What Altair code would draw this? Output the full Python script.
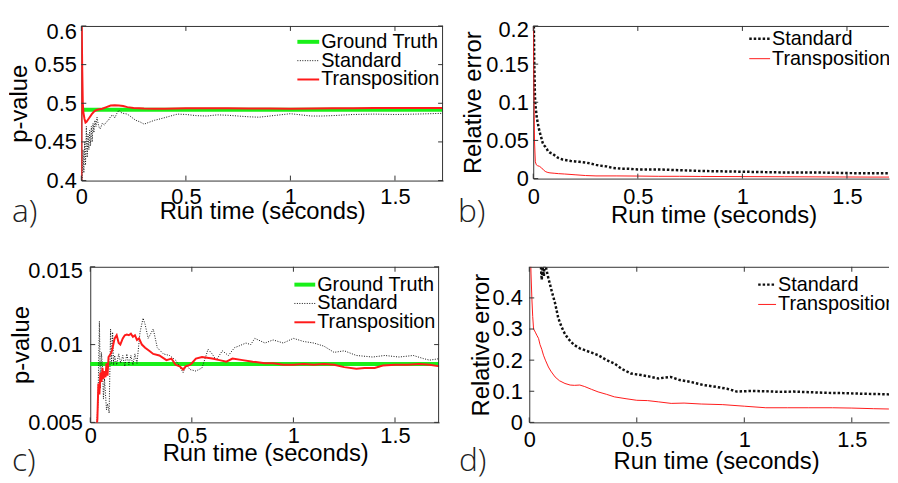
import altair as alt
import pandas as pd

FONT = "Liberation Sans"
SERIES = ["Ground Truth", "Standard", "Transposition"]
X_TICKS = [0, 0.5, 1, 1.5]
XTITLE = "Run time (seconds)"

A_YTICKS = [0.4, 0.45, 0.5, 0.55, 0.6]
A_GT = 0.4915
A_TRN_T = [0, 0.002, 0.004, 0.007, 0.01, 0.015, 0.02, 0.025, 0.03, 0.04, 0.05, 0.06, 0.07, 0.08, 0.1,
           0.12, 0.14, 0.16, 0.18, 0.2, 0.22, 0.25, 0.3, 0.35, 0.4, 0.5, 0.6, 0.7, 0.8, 0.9, 1.0,
           1.1, 1.2, 1.3, 1.4, 1.5, 1.6, 1.73]
A_TRN_P = [0.40, 0.60, 0.55, 0.50, 0.488, 0.48, 0.475, 0.476, 0.478, 0.482, 0.486, 0.489, 0.491, 0.492,
           0.493, 0.495, 0.497, 0.4975, 0.4972, 0.4965, 0.495, 0.494, 0.4932, 0.4928, 0.493, 0.4935,
           0.4937, 0.4935, 0.4933, 0.4932, 0.493, 0.4932, 0.4935, 0.4937, 0.4938, 0.4938, 0.494, 0.494]
A_STD_T = [0.004, 0.008, 0.012, 0.016, 0.02, 0.024, 0.028, 0.032, 0.036, 0.04, 0.044, 0.048, 0.052,
           0.056, 0.06, 0.065, 0.07, 0.075, 0.08, 0.085, 0.09, 0.095, 0.1, 0.11, 0.12, 0.13, 0.14,
           0.15, 0.16, 0.17, 0.18, 0.19, 0.2, 0.22, 0.24, 0.26, 0.28, 0.3, 0.32, 0.35, 0.38, 0.42,
           0.46, 0.5, 0.55, 0.6, 0.65, 0.7, 0.75, 0.8, 0.85, 0.9, 0.95, 1.0, 1.05, 1.1, 1.15, 1.2,
           1.3, 1.4, 1.5, 1.6, 1.73]
A_STD_P = [0.40, 0.44, 0.41, 0.45, 0.42, 0.47, 0.43, 0.46, 0.44, 0.465, 0.445, 0.47, 0.45, 0.474,
           0.462, 0.478, 0.47, 0.482, 0.474, 0.469, 0.467, 0.47, 0.474, 0.472, 0.476, 0.478, 0.483,
           0.485, 0.481, 0.487, 0.491, 0.488, 0.487, 0.486, 0.482, 0.478, 0.476, 0.473, 0.475, 0.478,
           0.48, 0.483, 0.486, 0.4855, 0.484, 0.4835, 0.485, 0.4845, 0.4835, 0.4825, 0.482, 0.4835,
           0.485, 0.4865, 0.485, 0.4835, 0.4835, 0.484, 0.4855, 0.486, 0.4855, 0.486, 0.487]

B_YTICKS = [0, 0.05, 0.1, 0.15, 0.2]
B_TRN_T = [0, 0.003, 0.006, 0.01, 0.015, 0.02, 0.03, 0.04, 0.05, 0.06, 0.07, 0.08, 0.1, 0.12, 0.15,
           0.2, 0.25, 0.3, 0.4, 0.5, 0.6, 0.7, 0.8, 1.0, 1.2, 1.4, 1.6, 1.73]
B_TRN_E = [0.2, 0.12, 0.05, 0.022, 0.018, 0.017, 0.016, 0.014, 0.011, 0.009, 0.008, 0.0075, 0.007,
           0.0065, 0.006, 0.005, 0.004, 0.0035, 0.0035, 0.0033, 0.003, 0.003, 0.0028, 0.0026, 0.0024,
           0.0022, 0.002, 0.002]
B_STD_T = [0.003, 0.005, 0.008, 0.01, 0.013, 0.017, 0.021, 0.025, 0.03, 0.035, 0.04, 0.045, 0.05,
           0.057, 0.065, 0.07, 0.08, 0.09, 0.1, 0.12, 0.14, 0.16, 0.18, 0.2, 0.22, 0.25, 0.27, 0.3,
           0.32, 0.35, 0.38, 0.42, 0.45, 0.5, 0.6, 0.7, 0.8, 0.9, 1.0, 1.1, 1.2, 1.3, 1.4, 1.5, 1.6, 1.73]
B_STD_E = [0.2, 0.15, 0.11, 0.097, 0.09, 0.08, 0.074, 0.068, 0.062, 0.057, 0.052, 0.047, 0.044,
           0.042, 0.039, 0.036, 0.034, 0.033, 0.031, 0.027, 0.025, 0.024, 0.023, 0.0225, 0.022, 0.021,
           0.02, 0.018, 0.017, 0.016, 0.014, 0.013, 0.013, 0.012, 0.012, 0.011, 0.01, 0.0095, 0.009,
           0.0085, 0.008, 0.008, 0.0078, 0.0072, 0.007, 0.007]

C_YTICKS = [0.005, 0.01, 0.015]
C_GT = 0.00875
C_TRN_T = [0.03, 0.035, 0.04, 0.045, 0.05, 0.055, 0.06, 0.065, 0.07, 0.075, 0.08, 0.085, 0.09, 0.1,
           0.107, 0.115, 0.12, 0.13, 0.14, 0.148, 0.16, 0.17, 0.18, 0.19, 0.2, 0.21, 0.22, 0.23, 0.24,
           0.254, 0.27, 0.29, 0.31, 0.34, 0.375, 0.4, 0.42, 0.44, 0.457, 0.47, 0.49, 0.5, 0.52, 0.55,
           0.6, 0.636, 0.67, 0.7, 0.75, 0.8, 0.86, 0.9, 0.95, 1.0, 1.05, 1.1, 1.15, 1.2, 1.25, 1.31,
           1.35, 1.4, 1.44, 1.5, 1.56, 1.62, 1.67, 1.72]
C_TRN_P = [0.0045, 0.0052, 0.0075, 0.0068, 0.0082, 0.0076, 0.0085, 0.0078, 0.0083, 0.0079, 0.0088,
           0.008, 0.0092, 0.0094, 0.0096, 0.0101, 0.0104, 0.0106, 0.0101, 0.0100, 0.0104, 0.0106,
           0.01065, 0.0106, 0.0107, 0.0105, 0.0106, 0.0103, 0.0104, 0.0100, 0.0098, 0.0096, 0.0094,
           0.0093, 0.0090, 0.0091, 0.0087, 0.0086, 0.0084, 0.0086, 0.0087, 0.0088, 0.0091, 0.0092,
           0.0091, 0.0090, 0.0089, 0.0091, 0.0090, 0.0089, 0.0088, 0.0088, 0.0087, 0.0087, 0.00875,
           0.0087, 0.00875, 0.0087, 0.00855, 0.00845, 0.0085, 0.0085, 0.00865, 0.0087, 0.0087,
           0.00875, 0.0087, 0.0086]
C_STD_T = [0.03, 0.038, 0.045, 0.05, 0.055, 0.06, 0.065, 0.07, 0.075, 0.08, 0.085, 0.093, 0.1, 0.105,
           0.11, 0.115, 0.12, 0.13, 0.14, 0.15, 0.16, 0.17, 0.18, 0.19, 0.2, 0.21, 0.22, 0.23, 0.245,
           0.26, 0.27, 0.285, 0.31, 0.33, 0.36, 0.39, 0.42, 0.44, 0.457, 0.475, 0.49, 0.52, 0.55,
           0.58, 0.6, 0.62, 0.65, 0.68, 0.71, 0.73, 0.766, 0.79, 0.81, 0.86, 0.9, 0.95, 1.0, 1.05,
           1.1, 1.15, 1.2, 1.25, 1.31, 1.39, 1.45, 1.52, 1.59, 1.64, 1.67, 1.72]
C_STD_P = [0.0045, 0.0062, 0.0115, 0.0072, 0.0095, 0.0085, 0.0065, 0.0078, 0.0068, 0.0058, 0.0062,
           0.0056, 0.011, 0.0088, 0.0108, 0.0087, 0.0093, 0.0087, 0.0094, 0.0088, 0.0093, 0.0086,
           0.0094, 0.0087, 0.0093, 0.0087, 0.0094, 0.0088, 0.0108, 0.0117, 0.0113, 0.0104, 0.0110,
           0.0098, 0.0094, 0.0093, 0.0090, 0.0086, 0.0082, 0.0087, 0.0084, 0.0083, 0.0085, 0.0097,
           0.0094, 0.0090, 0.0096, 0.0093, 0.0098, 0.0099, 0.0101, 0.0100, 0.0104, 0.0101, 0.0103,
           0.0101, 0.0104, 0.0102, 0.0101, 0.0099, 0.0095, 0.0096, 0.0093, 0.0092, 0.0093, 0.0092,
           0.0093, 0.0091, 0.0090, 0.0091]

D_YTICKS = [0, 0.1, 0.2, 0.3, 0.4]
D_TRN_T = [0.004, 0.008, 0.012, 0.016, 0.02, 0.028, 0.035, 0.043, 0.05, 0.058, 0.066, 0.075, 0.089,
           0.1, 0.12, 0.14, 0.166, 0.19, 0.21, 0.235, 0.258, 0.29, 0.32, 0.36, 0.396, 0.45, 0.5, 0.55,
           0.6, 0.66, 0.72, 0.8, 0.9, 1.0, 1.1, 1.2, 1.3, 1.41, 1.5, 1.6, 1.67, 1.73]
D_TRN_E = [0.6, 0.48, 0.40, 0.34, 0.30, 0.29, 0.28, 0.27, 0.25, 0.235, 0.216, 0.2, 0.178, 0.165,
           0.146, 0.134, 0.125, 0.12, 0.119, 0.12, 0.115, 0.106, 0.098, 0.09, 0.082, 0.076, 0.071,
           0.07, 0.066, 0.061, 0.062, 0.059, 0.057, 0.052, 0.047, 0.047, 0.047, 0.047, 0.046, 0.044,
           0.043, 0.043]
D_STD_T = [0.05, 0.055, 0.058, 0.062, 0.068, 0.072, 0.08, 0.09, 0.097, 0.105, 0.12, 0.135, 0.15,
           0.165, 0.18, 0.195, 0.21, 0.235, 0.258, 0.29, 0.32, 0.36, 0.396, 0.43, 0.473, 0.52, 0.56,
           0.6, 0.657, 0.7, 0.75, 0.81, 0.87, 0.92, 0.965, 1.03, 1.1, 1.17, 1.23, 1.3, 1.38, 1.46,
           1.55, 1.62, 1.67, 1.73]
D_STD_E = [0.6, 0.49, 0.458, 0.5, 0.47, 0.52, 0.49, 0.46, 0.442, 0.42, 0.383, 0.335, 0.307, 0.285,
           0.27, 0.258, 0.248, 0.238, 0.232, 0.224, 0.216, 0.2, 0.189, 0.172, 0.157, 0.152, 0.147,
           0.141, 0.146, 0.136, 0.13, 0.12, 0.114, 0.108, 0.099, 0.101, 0.1, 0.098, 0.099, 0.097,
           0.095, 0.094, 0.092, 0.091, 0.09, 0.089]

GREEN = "#19f019"
RED = "#ff1a1a"
BLACK = "#111111"
AXC = "#333333"


def one():
    return alt.Data(values=[{"k": 0}])


def panel(w, h, xmax, ydom, yticks, ytitle, lines, gt, legend, letter, cfg, right_box=True,
          anchor=None, x0=0):
    """x0: left inset of the plotting area inside the view (pixels)."""
    if x0:
        xs = alt.Scale(domain=[0, xmax], nice=False, zero=False, range=[x0, w])
    else:
        xs = alt.Scale(domain=[0, xmax], nice=False, zero=False)
    ys = alt.Scale(domain=ydom, nice=False, zero=False)
    top = max(yticks)
    if abs(top - ydom[1]) < 1e-12:
        loff = {"condition": {"test": f"datum.value >= {top - 1e-9}", "value": cfg["toff"]},
                "value": 0}
    else:
        loff = 0
    xaxis = alt.Axis(values=X_TICKS, format=".3~g", labelFlush=False, labelOverlap=False,
                     ticks=False, grid=False, domainColor=AXC, domainWidth=1, labelFont=FONT,
                     labelFontSize=22, labelColor="black", labelPadding=cfg["xlp"], title=XTITLE,
                     titleFont=FONT, titleFontSize=24, titleFontWeight="normal", titleColor="black",
                     titleX=cfg["xtx"], titleY=cfg["xty"], titleAlign="center",
                     titleBaseline="alphabetic")
    yaxis_kw = dict(values=yticks, format=".3~g", labelFlush=False, labelOverlap=False,
                    ticks=False, grid=False, domainColor=AXC, domainWidth=1, labelFont=FONT,
                    labelFontSize=22, labelColor="black", labelPadding=cfg["ylp"],
                    labelBaseline="middle", labelOffset=loff, title=ytitle,
                    titleFont=FONT, titleFontSize=24, titleFontWeight="normal", titleColor="black",
                    titleX=cfg["ytx"], titleY=h / 2, titleAngle=270, titleAlign="center",
                    titleBaseline="alphabetic")
    if x0:
        yaxis_kw["offset"] = -x0
    yaxis = alt.Axis(**yaxis_kw)

    def X():
        return alt.X("t:Q", scale=xs, axis=xaxis)

    def Y():
        return alt.Y("v:Q", scale=ys, axis=yaxis)

    layers = []
    if gt is not None:
        layers.append(alt.Chart(pd.DataFrame({"v": [gt]})).mark_rule(
            color=GREEN, strokeWidth=4, clip=True).encode(
            y=Y(), x=alt.value(x0), x2=alt.value(w)))
    for (tt, vv, style) in lines:
        df = pd.DataFrame({"t": tt, "v": vv})
        layers.append(alt.Chart(df).mark_line(clip=True, **style).encode(x=X(), y=Y()))
    xt = pd.DataFrame({"t": X_TICKS})
    yt = pd.DataFrame({"v": yticks})
    layers.append(alt.Chart(xt).mark_rule(color=AXC, strokeWidth=1).encode(
        x=X(), y=alt.value(h - 5), y2=alt.value(h)))
    layers.append(alt.Chart(xt).mark_rule(color=AXC, strokeWidth=1).encode(
        x=X(), y=alt.value(0), y2=alt.value(5)))
    layers.append(alt.Chart(yt).mark_rule(color=AXC, strokeWidth=1).encode(
        y=Y(), x=alt.value(x0), x2=alt.value(x0 + 5)))
    layers.append(alt.Chart(one()).mark_rule(color=AXC, strokeWidth=1).encode(
        x=alt.value(x0), x2=alt.value(w), y=alt.value(0.5)))
    if right_box:
        layers.append(alt.Chart(yt).mark_rule(color=AXC, strokeWidth=1).encode(
            y=Y(), x=alt.value(w - 5), x2=alt.value(w)))
        layers.append(alt.Chart(one()).mark_rule(color=AXC, strokeWidth=1).encode(
            x=alt.value(w - 0.5), y=alt.value(0), y2=alt.value(h)))
    for (name, style, x1, x2, xtx, yy) in legend:
        layers.append(alt.Chart(one()).mark_rule(**style).encode(
            x=alt.value(x0 + x1), x2=alt.value(x0 + x2), y=alt.value(yy)))
        layers.append(alt.Chart(one()).mark_text(
            align="left", baseline="middle", font=FONT, fontSize=20, color="black", clip=True
        ).encode(x=alt.value(x0 + xtx), y=alt.value(yy), text=alt.value(name)))
    layers.append(alt.Chart(one()).mark_text(
        text=letter, align="left", baseline="alphabetic", font="Open Sans", fontWeight=300,
        fontSize=32, color="#222222").encode(x=alt.value(cfg["lx"]), y=alt.value(cfg["ly"])))
    # layout anchor: a white (visible, so it counts in the bounds) hairline in the page margin
    if anchor is not None:
        ax, ay1, ay2 = anchor
        layers.append(alt.Chart(one()).mark_rule(color="white", strokeWidth=1).encode(
            x=alt.value(ax), y=alt.value(ay1), y2=alt.value(ay2)))
    return alt.layer(*layers).properties(width=w, height=h)


STD_THIN = dict(color=BLACK, strokeWidth=1, strokeDash=[1, 1.5])
STD_THICK = dict(color=BLACK, strokeWidth=2.5, strokeDash=[2.5, 2])
TRN_THICK = dict(color=RED, strokeWidth=2)
TRN_THIN = dict(color=RED, strokeWidth=1)
GT_STYLE = dict(color=GREEN, strokeWidth=4)

# view origins on the page: row 1 at x=82,y=24 ; row 2 at x=82 (axis at 91), y=267
pa = panel(365, 156, 1.73, [0.4, 0.6], A_YTICKS, "p-value",
           [(A_STD_T, A_STD_P, STD_THIN), (A_TRN_T, A_TRN_P, TRN_THICK)], A_GT,
           [(SERIES[0], GT_STYLE, 218, 240, 242, 16), (SERIES[1], STD_THIN, 218, 240, 242, 35),
            (SERIES[2], TRN_THICK, 218, 240, 242, 54)],
           "a)", dict(xlp=6, xtx=182.5, xty=38, ylp=5, ytx=-55, lx=-70, ly=198, toff=6),
           anchor=(-73.5, 8.5 - 24, 232.5 - 24))

pb = panel(359, 154, 1.701, [0, 0.2], B_YTICKS, "Relative error",
           [(B_STD_T, B_STD_E, STD_THICK), (B_TRN_T, B_TRN_E, TRN_THIN)], None,
           [(SERIES[1], STD_THICK, 218, 239, 241, 13), (SERIES[2], TRN_THIN, 218, 239, 241, 33)],
           "b)", dict(xlp=8, xtx=182, xty=44, ylp=5, ytx=-53, lx=-76, ly=198, toff=4),
           right_box=False)

pc = panel(361, 157, 1.717, [0.005, 0.015], C_YTICKS, "p-value",
           [(C_STD_T, C_STD_P, STD_THIN), (C_TRN_T, C_TRN_P, TRN_THICK)], C_GT,
           [(SERIES[0], GT_STYLE, 206, 227, 229, 18), (SERIES[1], STD_THIN, 206, 227, 229, 37),
            (SERIES[2], TRN_THICK, 206, 227, 229, 56)],
           "c)", dict(xlp=3, xtx=185.5, xty=38, ylp=8, ytx=-62, lx=-70, ly=206, toff=4),
           anchor=(-73.5, 241.5 - 267, 475.5 - 267), x0=9)

pd_ = panel(363, 157, 1.673, [0, 0.5], D_YTICKS, "Relative error",
            [(D_STD_T, D_STD_E, STD_THICK), (D_TRN_T, D_TRN_E, TRN_THIN)], None,
            [(SERIES[1], STD_THICK, 231, 249, 251, 18), (SERIES[2], TRN_THIN, 231, 249, 251, 38)],
            "d)", dict(xlp=7, xtx=188.5, xty=47, ylp=7, ytx=-41, lx=-71, ly=206, toff=0),
            right_box=False)

row1 = alt.hconcat(pa, pb, spacing=91, bounds="flush")
row2 = alt.hconcat(pc, pd_, spacing=91, bounds="flush")

chart = alt.vconcat(row1, row2, spacing=8).properties(
    padding={"left": 0, "top": 0, "right": 0, "bottom": 0},
    background="white",
).configure_view(stroke=None)

chart.save("out.html", embed_options={"renderer": "svg", "actions": False})
